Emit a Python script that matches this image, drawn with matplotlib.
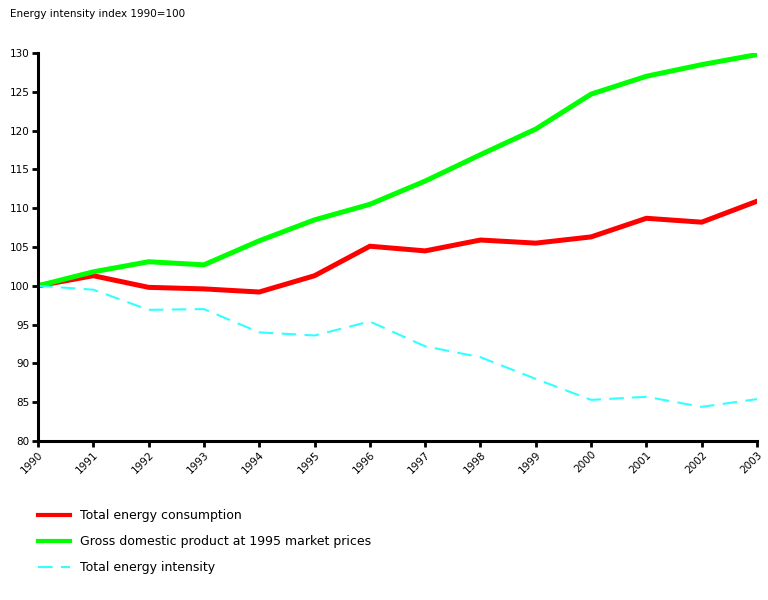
import matplotlib
matplotlib.use("Agg")
import matplotlib.pyplot as plt

years = list(range(1990, 2004))
consumption = [100, 101.3, 99.8, 99.6, 99.2, 101.3, 105.1, 104.5, 105.9, 105.5, 106.3, 108.7, 108.2, 110.9]
gdp = [100, 101.8, 103.1, 102.7, 105.8, 108.5, 110.5, 113.5, 116.9, 120.2, 124.7, 127.0, 128.5, 129.8]
intensity = [100, 99.5, 96.9, 97.0, 94.0, 93.6, 95.4, 92.2, 90.8, 88.0, 85.3, 85.7, 84.4, 85.4]
labels = ["Total energy consumption", "Gross domestic product at 1995 market prices", "Total energy intensity"]
ylabel = "Energy intensity index 1990=100"
yticks = list(range(80, 131, 5))

plt.rcParams['font.family'] = ['DejaVu Sans']
fig = plt.figure(figsize=(7.68, 6.0), dpi=100)
ax = fig.add_axes([38/768, 1-441/600, (757-38)/768, (441-53)/600])

l1, = ax.plot(years, consumption, color="#ff0000", lw=3.6, solid_joinstyle="miter")
l2, = ax.plot(years, gdp, color="#00ff00", lw=3.6, solid_joinstyle="miter")
l3, = ax.plot(years, intensity, color="#33ffff", lw=1.5, linestyle=(0, (7, 4)))

ax.set_xlim(1990, 2003)
ax.set_ylim(80, 130)
ax.set_yticks(yticks)
ax.set_xticks(years)
ax.set_xticklabels([str(y) for y in years], rotation=45, ha="right", rotation_mode="anchor")
ax.tick_params(axis="both", labelsize=7.5, width=2, length=4, direction="out", pad=2)
for s in ["top", "right"]:
    ax.spines[s].set_visible(False)
for s in ["left", "bottom"]:
    ax.spines[s].set_linewidth(2.2)

fig.text(10/768, 1-14/600, ylabel, fontsize=7.5, va="center", ha="left")

leg = fig.legend([l1, l2, l3], labels, loc="upper left", bbox_to_anchor=(27/768, 1-498/600),
                 frameon=False, fontsize=9, handlelength=2.5, handletextpad=0.8, labelspacing=1.05)
for h in leg.legend_handles[:2]:
    h.set_linewidth(3.0)

fig.savefig("out.png", dpi=100)
